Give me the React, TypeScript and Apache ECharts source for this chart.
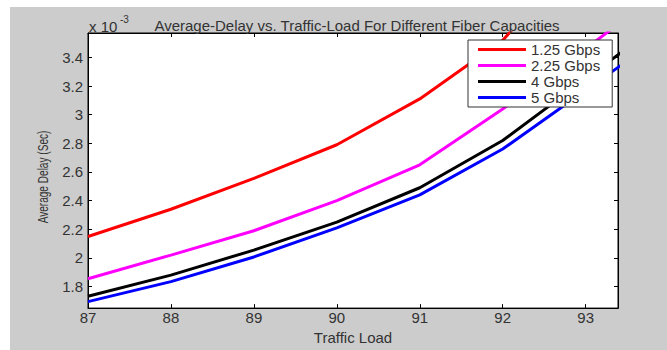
import React, { useEffect, useRef } from "react";
import * as echarts from "echarts";

const trafficLoad = [87, 88, 89, 90, 91, 92, 93, 94];
const cap125 = [2.15, 2.34, 2.555, 2.79, 3.11, 3.52, 4.15, 4.8];
const cap225 = [1.855, 2.02, 2.19, 2.4, 2.65, 3.04, 3.46, 3.9];
const cap4 = [1.733, 1.88, 2.055, 2.25, 2.49, 2.82, 3.25, 3.68];
const cap5 = [1.695, 1.835, 2.007, 2.21, 2.44, 2.76, 3.17, 3.58];

const seriesNames = ["1.25 Gbps", "2.25 Gbps", "4 Gbps", "5 Gbps"];
const seriesColors = ["#ff0000", "#ff00ff", "#000000", "#0000ff"];
const xTicks = [87, 88, 89, 90, 91, 92, 93];
const yTicks = [1.8, 2, 2.2, 2.4, 2.6, 2.8, 3, 3.2, 3.4];

const FONT = "'Liberation Sans', Arial, Helvetica, sans-serif";

export default function App() {
  const ref = useRef<HTMLDivElement>(null);
  useEffect(() => {
    if (!ref.current) return;
    const chart = echarts.init(ref.current, undefined, { renderer: "svg" });
    const allData = [cap125, cap225, cap4, cap5];
    const baseAxisLine = { show: true, lineStyle: { color: "#000", width: 1 } };
    chart.setOption({
      animation: false,
      backgroundColor: "transparent",
      textStyle: { fontFamily: FONT },
      title: {
        text: "Average-Delay vs. Traffic-Load For Different Fiber Capacities",
        left: 352,
        textAlign: "center",
        top: 13,
        textStyle: { fontSize: 15, fontWeight: "normal", color: "#333", fontFamily: FONT },
      },
      grid: {
        left: 88,
        right: 49,
        top: 33,
        bottom: 31,
        show: true,
        backgroundColor: "#fff",
        borderColor: "#000",
        borderWidth: 1,
      },
      legend: {
        orient: "vertical",
        left: 468,
        top: 40,
        data: seriesNames,
        icon: "rect",
        itemWidth: 48,
        itemHeight: 3,
        itemGap: 1,
        padding: [2, 12, 2, 10],
        borderColor: "#333",
        borderWidth: 1,
        backgroundColor: "#fff",
        textStyle: { fontSize: 15, color: "#333", lineHeight: 15, fontFamily: FONT },
      },
      xAxis: [
        {
          type: "value",
          min: 87,
          max: 93.39,
          position: "bottom",
          name: "Traffic Load",
          nameLocation: "middle",
          nameGap: 16,
          nameTextStyle: { fontSize: 15, color: "#333", fontFamily: FONT },
          axisLine: baseAxisLine,
          axisTick: { show: true, inside: true, length: 4, customValues: xTicks, lineStyle: { color: "#000" } },
          axisLabel: { show: true, customValues: xTicks, margin: 2, fontSize: 15, color: "#333", fontFamily: FONT },
          splitLine: { show: false },
        },
        {
          type: "value",
          min: 87,
          max: 93.39,
          position: "top",
          axisLine: baseAxisLine,
          axisTick: { show: true, inside: true, length: 4, customValues: xTicks, lineStyle: { color: "#000" } },
          axisLabel: { show: false },
          splitLine: { show: false },
        },
      ],
      yAxis: [
        {
          type: "value",
          min: 1.65,
          max: 3.57,
          position: "left",
          axisLine: baseAxisLine,
          axisTick: { show: true, inside: true, length: 4, customValues: yTicks, lineStyle: { color: "#000" } },
          axisLabel: { show: true, customValues: yTicks, margin: 5, fontSize: 15, color: "#333", fontFamily: FONT },
          splitLine: { show: false },
        },
        {
          type: "value",
          min: 1.65,
          max: 3.57,
          position: "right",
          axisLine: baseAxisLine,
          axisTick: { show: true, inside: true, length: 4, customValues: yTicks, lineStyle: { color: "#000" } },
          axisLabel: { show: false },
          splitLine: { show: false },
        },
      ],
      graphic: [
        {
          type: "text",
          x: 89,
          y: 26,
          style: { text: "x 10", fontSize: 15, fill: "#333", fontFamily: FONT, verticalAlign: "middle" },
        },
        {
          type: "text",
          x: 120,
          y: 19,
          style: { text: "-3", fontSize: 10, fill: "#333", fontFamily: FONT, verticalAlign: "middle" },
        },
        {
          type: "text",
          x: 43,
          y: 177,
          rotation: Math.PI / 2,
          scaleX: 0.72,
          style: {
            text: "Average Delay (Sec)",
            fontSize: 14,
            fill: "#333",
            fontFamily: FONT,
            align: "center",
            verticalAlign: "middle",
          },
        },
      ],
      series: seriesNames.map((name, i) => ({
        name,
        type: "line",
        xAxisIndex: 0,
        yAxisIndex: 0,
        data: trafficLoad.map((x, j) => [x, allData[i][j]]),
        symbol: "none",
        clip: true,
        color: seriesColors[i],
        lineStyle: { width: 3, color: seriesColors[i] },
      })),
    });
    return () => chart.dispose();
  }, []);

  return (
    <div style={{ position: "fixed", left: 0, top: 0, width: 667, height: 350, background: "#fff" }}>
      <div style={{ position: "absolute", left: 10, top: 7, right: 0, bottom: 0, background: "#cccccc" }} />
      <div ref={ref} style={{ position: "absolute", left: 0, top: 0, width: 667, height: 350 }} />
    </div>
  );
}
